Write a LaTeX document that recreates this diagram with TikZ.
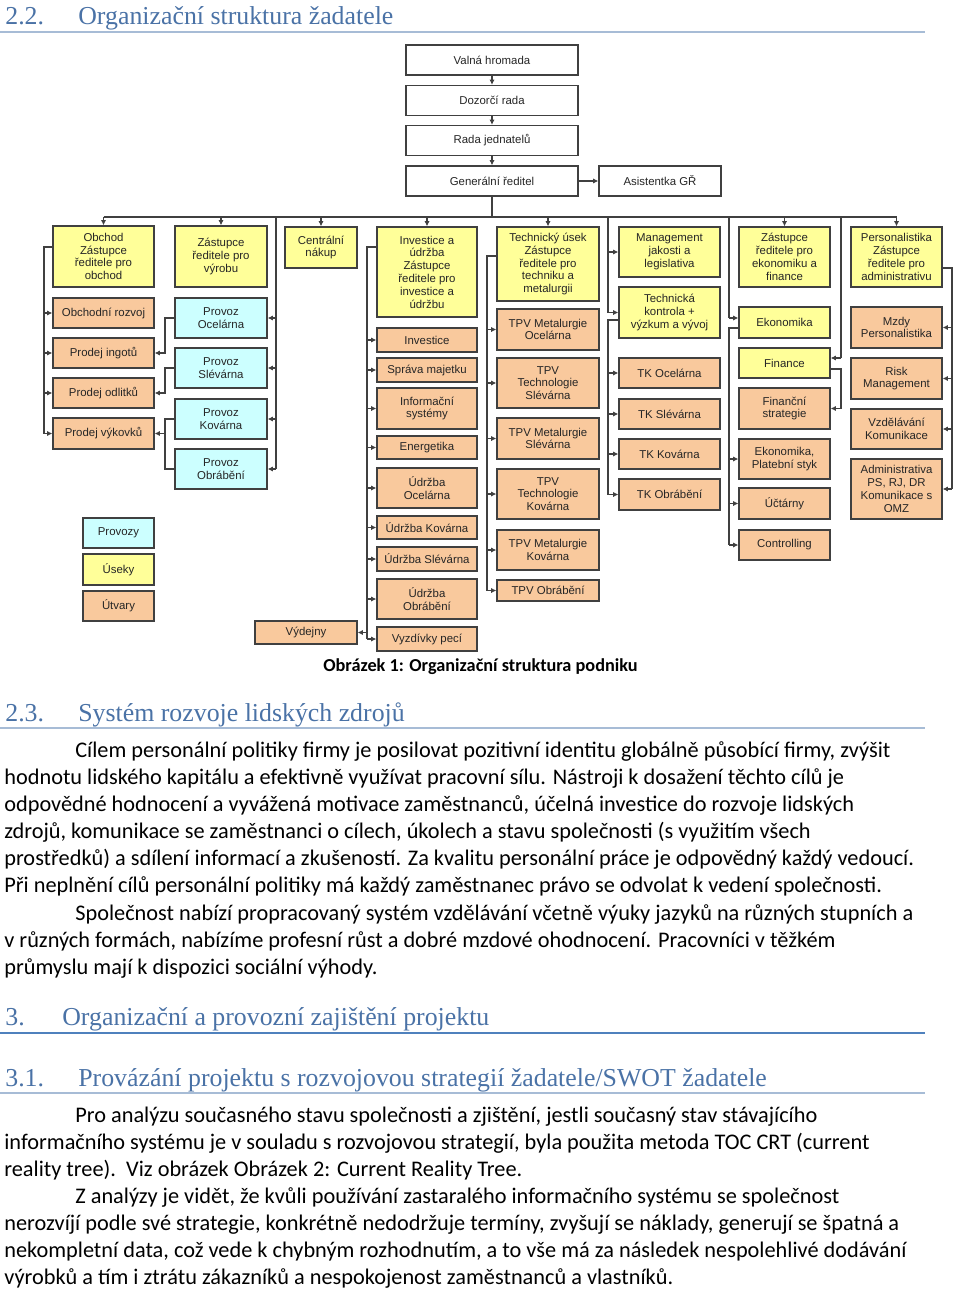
\documentclass[tikz,border=0pt]{standalone}
\usepackage{fontspec}
\setmainfont{Carlito}
\newfontfamily\headfont{Liberation Serif}
\newfontfamily\chartfont{Liberation Sans}
\usetikzlibrary{arrows.meta}

\definecolor{usek}{HTML}{FFFF99}
\definecolor{provoz}{HTML}{CCFFFF}
\definecolor{utvar}{HTML}{F9C99D}
\definecolor{headblue}{HTML}{4A72A6}
\definecolor{rulegray}{HTML}{A7BCD6}
\definecolor{ruleblue}{HTML}{4F81BD}

\tikzset{
  orgbox/.style={draw=black!75, line width=0.7pt, inner sep=0pt, align=center,
    font=\chartfont\fontsize{6.5}{7.3}\selectfont, text=black!85},
  topbox/.style={orgbox, fill=white},
  usekbox/.style={orgbox, fill=usek},
  provbox/.style={orgbox, fill=provoz},
  utbox/.style={orgbox, fill=utvar},
  wd/.style={minimum width=#1*0.02cm},
  ht/.style={minimum height=#1*0.02cm},
  conn/.style={draw=black!75, line width=0.6pt},
  conarr/.style={conn, -{Latex[length=3pt,width=3pt]}},
  bodytxt/.style={font=\fontsize{12.7}{14}\selectfont, anchor=base west, inner sep=0pt},
  headtxt/.style={font=\headfont\fontsize{14.7}{17}\selectfont, text=headblue, anchor=base west, inner sep=0pt},
  hrule/.style={draw=rulegray, line width=0.8pt}
}

\begin{document}
\begin{tikzpicture}[x=0.02cm,y=-0.02cm]
  \useasboundingbox (0,0) rectangle (960,1294);

  % heading 2.2
  \node [headtxt] (h22n) at (5,25) {2.2.};
  \node [headtxt] (h22) at (78,25) {Organizační struktura žadatele};
  \draw [hrule] (0,32) -- (925,32);

  % top of the chart
  \node [topbox,wd=172,ht=30] (valna) at (492,60) {Valná hromada};
  \node [topbox,wd=172,ht=30] (dozorci) at (492,100.5) {Dozorčí rada};
  \node [topbox,wd=172,ht=30] (rada) at (492,140.5) {Rada jednatelů};
  \node [topbox,wd=172,ht=30] (gr) at (492,181) {Generální ředitel};
  \node [topbox,wd=122,ht=30] (asist) at (660,181) {Asistentka GŘ};

  % obchod
  \node [usekbox,wd=101,ht=61] (obchod) at (103.5,256.5) {Obchod\\Zástupce\\ředitele pro\\obchod};
  \node [utbox,wd=101,ht=30] (rozvoj) at (103.5,313) {Obchodní rozvoj};
  \node [utbox,wd=101,ht=30] (ingoty) at (103.5,353) {Prodej ingotů};
  \node [utbox,wd=101,ht=30] (odlitky) at (103.5,393) {Prodej odlitků};
  \node [utbox,wd=101,ht=31] (vykovky) at (103.5,433.5) {Prodej výkovků};

  % vyroba
  \node [usekbox,wd=92,ht=61] (vyroba) at (221,256.5) {Zástupce\\ředitele pro\\výrobu};
  \node [provbox,wd=92,ht=40] (pocel) at (221,318) {Provoz\\Ocelárna};
  \node [provbox,wd=92,ht=40] (psliv) at (221,368) {Provoz\\Slévárna};
  \node [provbox,wd=92,ht=40] (pkov) at (221,419) {Provoz\\Kovárna};
  \node [provbox,wd=92,ht=40] (pobr) at (221,469) {Provoz\\Obrábění};

  % legend
  \node [provbox,wd=71,ht=30] (lprov) at (118.5,533) {Provozy};
  \node [usekbox,wd=71,ht=31] (lusek) at (118.5,569.5) {Úseky};
  \node [utbox,wd=71,ht=30] (lutvar) at (118.5,606) {Útvary};

  % nakup, investice
  \node [usekbox,wd=72,ht=41] (nakup) at (321,247.5) {Centrální\\nákup};
  \node [utbox,wd=102,ht=23] (vydejny) at (306,632.5) {Výdejny};
  \node [usekbox,wd=100,ht=90] (invest) at (427,272) {Investice a\\údržba\\Zástupce\\ředitele pro\\investice a\\údržbu};
  \node [utbox,wd=100,ht=24] (inv) at (427,340) {Investice};
  \node [utbox,wd=100,ht=24] (sprava) at (427,370) {Správa majetku};
  \node [utbox,wd=100,ht=41] (infsys) at (427,408.5) {Informační\\systémy};
  \node [utbox,wd=100,ht=23] (energ) at (427,447.5) {Energetika};
  \node [utbox,wd=100,ht=40] (udocel) at (427,488) {Údržba\\Ocelárna};
  \node [utbox,wd=100,ht=23] (udkov) at (427,527.5) {Údržba Kovárna};
  \node [utbox,wd=100,ht=24] (udsliv) at (427,559) {Údržba Slévárna};
  \node [utbox,wd=100,ht=40] (udobr) at (427,599) {Údržba\\Obrábění};
  \node [utbox,wd=100,ht=24] (vyzd) at (427,639) {Vyzdívky pecí};

  % technicky usek
  \node [usekbox,wd=102,ht=74] (tech) at (548,264) {Technický úsek\\Zástupce\\ředitele pro\\techniku a\\metalurgii};
  \node [utbox,wd=102,ht=41] (tmo) at (548,329.5) {TPV Metalurgie\\Ocelárna};
  \node [utbox,wd=102,ht=50] (tts) at (548,383) {TPV\\Technologie\\Slévárna};
  \node [utbox,wd=102,ht=41] (tms) at (548,438.5) {TPV Metalurgie\\Slévárna};
  \node [utbox,wd=102,ht=50] (ttk) at (548,494) {TPV\\Technologie\\Kovárna};
  \node [utbox,wd=102,ht=40] (tmk) at (548,550) {TPV Metalurgie\\Kovárna};
  \node [utbox,wd=102,ht=21] (tobr) at (548,590.5) {TPV Obrábění};

  % jakost a kontrola
  \node [usekbox,wd=101,ht=50] (mgmt) at (669.5,252) {Management\\jakosti a\\legislativa};
  \node [usekbox,wd=101,ht=51] (tkvv) at (669.5,312.5) {Technická\\kontrola +\\výzkum a vývoj};
  \node [utbox,wd=101,ht=30] (tkocel) at (669.5,373) {TK Ocelárna};
  \node [utbox,wd=101,ht=30] (tksliv) at (669.5,414) {TK Slévárna};
  \node [utbox,wd=101,ht=30] (tkkov) at (669.5,454) {TK Kovárna};
  \node [utbox,wd=101,ht=31] (tkobr) at (669.5,494.5) {TK Obrábění};

  % ekonomika
  \node [usekbox,wd=91,ht=60] (ekonz) at (784.5,257) {Zástupce\\ředitele pro\\ekonomiku a\\finance};
  \node [usekbox,wd=91,ht=31] (ekon) at (784.5,322.5) {Ekonomika};
  \node [usekbox,wd=91,ht=30] (fin) at (784.5,363) {Finance};
  \node [utbox,wd=91,ht=41] (finstr) at (784.5,408.5) {Finanční\\strategie};
  \node [utbox,wd=91,ht=40] (platstyk) at (784.5,459) {Ekonomika,\\Platební styk};
  \node [utbox,wd=91,ht=31] (uctarny) at (784.5,503.5) {Účtárny};
  \node [utbox,wd=91,ht=30] (control) at (784.5,545) {Controlling};

  % personalistika
  \node [usekbox,wd=91,ht=60] (pers) at (896.5,257) {Personalistika\\Zástupce\\ředitele pro\\administrativu};
  \node [utbox,wd=91,ht=41] (mzdy) at (896.5,327.5) {Mzdy\\Personalistika};
  \node [utbox,wd=91,ht=41] (risk) at (896.5,378.5) {Risk\\Management};
  \node [utbox,wd=91,ht=40] (vzdel) at (896.5,429) {Vzdělávání\\Komunikace};
  \node [utbox,wd=91,ht=60] (admin) at (896.5,489) {Administrativa\\PS, RJ, DR\\Komunikace s\\OMZ};

  % connectors
  \foreach \from/\to in {valna/dozorci,dozorci/rada,rada/gr,gr/asist}
    \draw [conarr] (\from) -- (\to);
  \draw [conn] (gr.south) -- (gr.south |- 0,217);
  \draw [conn] (obchod.north |- 0,217) -- (pers.north |- 0,217);
  \foreach \n in {obchod,vyroba,nakup,invest,tech,ekonz,pers}
    \draw [conarr] (\n.north |- 0,217) -- (\n.north);

  \coordinate (obtrunk) at (44,247);
  \draw [conn] (obchod.west |- obtrunk) -- (obtrunk) -- (obtrunk |- vykovky.west);
  \foreach \n in {rozvoj,ingoty,odlitky,vykovky}
    \draw [conarr] (obtrunk |- \n.west) -- (\n.west);

  \coordinate (vytrunk) at (276,217);
  \draw [conn] (vytrunk) -- (vytrunk |- pobr.east);
  \foreach \n in {pocel,psliv,pkov,pobr}
    \draw [conarr] (vytrunk |- \n.east) -- (\n.east);

  \coordinate (prtrunk) at (165,0);
  \foreach \p/\s in {pocel/ingoty,psliv/odlitky,pkov/vykovky}
    \draw [conarr] (\p.west) -- (\p.west -| prtrunk) |- (\s.east);
  \draw [conn] (pobr.west) -- (pobr.west -| prtrunk) -- (prtrunk |- pkov.west);

  \coordinate (intrunk) at (367,247);
  \draw [conn] (invest.west |- intrunk) -- (intrunk) -- (intrunk |- vyzd.west);
  \foreach \n in {inv,sprava,infsys,energ,udocel,udkov,udsliv,udobr,vyzd}
    \draw [conarr] (intrunk |- \n.west) -- (\n.west);
  \draw [conarr] (intrunk |- vydejny.east) -- (vydejny.east);

  \coordinate (tetrunk) at (487,256);
  \draw [conn] (tech.west |- tetrunk) -- (tetrunk) -- (tetrunk |- tobr.west);
  \foreach \n in {tmo,tts,tms,ttk,tmk,tobr}
    \draw [conarr] (tetrunk |- \n.west) -- (\n.west);

  \coordinate (mgtrunk) at (608,217);
  \draw [conn] (mgtrunk) -- (mgtrunk |- tkvv.west);
  \foreach \n in {mgmt,tkvv}
    \draw [conarr] (mgtrunk |- \n.west) -- (\n.west);
  \draw [conn] (tkvv.west |- 0,320) -- (mgtrunk |- 0,320) -- (mgtrunk |- tkobr.west);
  \foreach \n in {tkocel,tksliv,tkkov,tkobr}
    \draw [conarr] (mgtrunk |- \n.west) -- (\n.west);

  \coordinate (ektrunk) at (729,217);
  \draw [conn] (ektrunk) -- (ektrunk |- 0,318);
  \draw [conarr] (ektrunk |- 0,318) -- (ekon.west |- 0,318);
  \draw [conn] (ekon.west |- 0,328) -- (ektrunk |- 0,328) -- (ektrunk |- control.west);
  \foreach \n in {platstyk,uctarny,control}
    \draw [conarr] (ektrunk |- \n.west) -- (\n.west);

  \coordinate (fitrunk) at (841,217);
  \draw [conn] (fitrunk) -- (fitrunk |- 0,358);
  \draw [conarr] (fitrunk |- 0,358) -- (fin.east |- 0,358);
  \draw [conn] (fin.east |- 0,369) -- (fitrunk |- 0,369) -- (fitrunk |- finstr.east);
  \draw [conarr] (fitrunk |- finstr.east) -- (finstr.east);

  \coordinate (petrunk) at (952,268);
  \draw [conn] (pers.east |- petrunk) -- (petrunk) -- (petrunk |- admin.east);
  \foreach \n in {mzdy,risk,vzdel,admin}
    \draw [conarr] (petrunk |- \n.east) -- (\n.east);

  % caption
  \node [font=\bfseries\fontsize{10.4}{12}\selectfont, anchor=base, inner sep=0pt] (cap1) at (480.5,671)
    {Obrázek 1: Organizační struktura podniku};

  % heading 2.3
  \node [headtxt] (h23n) at (5,721) {2.3.};
  \node [headtxt] (h23) at (78,721) {Systém rozvoje lidských zdrojů};
  \draw [hrule] (0,728) -- (925,728);

  \node [bodytxt] (p1) at (75,757) {Cílem personální politiky firmy je posilovat pozitivní identitu globálně působící firmy, zvýšit};
  \node [bodytxt] (p2) at (4,784) {hodnotu lidského kapitálu a efektivně využívat pracovní sílu. Nástroji k dosažení těchto cílů je};
  \node [bodytxt] (p3) at (4,811) {odpovědné hodnocení a vyvážená motivace zaměstnanců, účelná investice do rozvoje lidských};
  \node [bodytxt] (p4) at (4,838) {zdrojů, komunikace se zaměstnanci o cílech, úkolech a stavu společnosti (s využitím všech};
  \node [bodytxt] (p5) at (4,865) {prostředků) a sdílení informací a zkušeností. Za kvalitu personální práce je odpovědný každý vedoucí.};
  \node [bodytxt] (p6) at (4,892) {Při neplnění cílů personální politiky má každý zaměstnanec právo se odvolat k vedení společnosti.};
  \node [bodytxt] (p7) at (75,920) {Společnost nabízí propracovaný systém vzdělávání včetně výuky jazyků na různých stupních a};
  \node [bodytxt] (p8) at (4,947) {v různých formách, nabízíme profesní růst a dobré mzdové ohodnocení. Pracovníci v těžkém};
  \node [bodytxt] (p9) at (4,974) {průmyslu mají k dispozici sociální výhody.};

  % heading 3
  \node [headtxt] (h3n) at (5,1025) {3.};
  \node [headtxt] (h3) at (62,1025) {Organizační a provozní zajištění projektu};
  \draw [draw=ruleblue, line width=1.6pt] (0,1033) -- (925,1033);

  % heading 3.1
  \node [headtxt] (h31n) at (5,1086) {3.1.};
  \node [headtxt] (h31) at (78,1086) {Provázání projektu s rozvojovou strategií žadatele/SWOT žadatele};
  \draw [hrule] (0,1093) -- (925,1093);

  \node [bodytxt] (q1) at (75,1122) {Pro analýzu současného stavu společnosti a zjištění, jestli současný stav stávajícího};
  \node [bodytxt] (q2) at (4,1149) {informačního systému je v souladu s rozvojovou strategií, byla použita metoda TOC CRT (current};
  \node [bodytxt] (q3) at (4,1176) {reality tree).\ \ Viz obrázek Obrázek 2: Current Reality Tree.};
  \node [bodytxt] (q4) at (75,1203) {Z analýzy je vidět, že kvůli používání zastaralého informačního systému se společnost};
  \node [bodytxt] (q5) at (4,1230) {nerozvíjí podle své strategie, konkrétně nedodržuje termíny, zvyšují se náklady, generují se špatná a};
  \node [bodytxt] (q6) at (4,1257) {nekompletní data, což vede k chybným rozhodnutím, a to vše má za následek nespolehlivé dodávání};
  \node [bodytxt] (q7) at (4,1284) {výrobků a tím i ztrátu zákazníků a nespokojenost zaměstnanců a vlastníků.};
\end{tikzpicture}
\end{document}
